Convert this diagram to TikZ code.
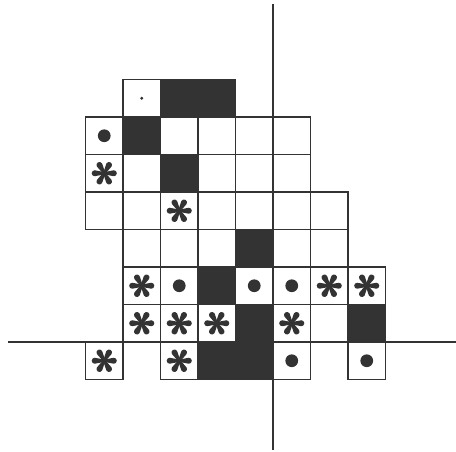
\documentclass[tikz,border=0pt]{standalone}
\definecolor{ink}{HTML}{333333}
\tikzset{
  cellbox/.style={draw=ink,line width=1.1pt},
  blackcell/.style={cellbox,fill=ink},
  axisline/.style={draw=ink,line width=1.1pt},
  aster/.pic={
    \foreach \a in {0,60,...,300}{
      \begin{scope}[rotate=\a]
        \fill[ink] (0,-0.03) -- (0.255,-0.08) arc (-90:90:0.08) -- (0,0.03) -- cycle;
      \end{scope}
    }
    \fill[ink] (0,0) circle (0.05);
  }
}
\begin{document}
\begin{tikzpicture}[x=1cm,y=1cm]
\useasboundingbox (-7.28,-2.93) rectangle (4.88,9.12);
% white cells
\foreach \c/\r in {1/0,
  0/1,2/1,3/1,4/1,5/1,
  0/2,1/2,3/2,4/2,5/2,
  0/3,1/3,2/3,3/3,4/3,5/3,6/3,
  1/4,2/4,3/4,5/4,6/4,
  1/5,2/5,4/5,5/5,6/5,7/5,
  1/6,2/6,3/6,5/6,6/6,
  0/7,2/7,5/7,7/7}
  \draw[cellbox] (\c-5,6-\r) rectangle ++(1,1);
% black cells
\foreach \c/\r in {2/0,3/0,1/1,2/2,4/4,3/5,4/6,7/6,3/7,4/7}
  \draw[blackcell] (\c-5,6-\r) rectangle ++(1,1);
% axes
\draw[axisline] (-7.07,0) -- (4.88,0);
\draw[axisline] (0,9.0) -- (0,-2.88);
% dots
\foreach \c/\r in {0/1,2/5,4/5,5/5,5/7,7/7}
  \fill[ink] (\c-4.5,6.5-\r) circle (0.17);
\fill[ink] (1-4.5,6.5) circle (0.045);
% asterisks
\foreach \c/\r in {0/2,2/3,1/5,6/5,7/5,1/6,2/6,3/6,5/6,0/7,2/7}
  \pic at (\c-4.5,6.5-\r) {aster};
\end{tikzpicture}
\end{document}
